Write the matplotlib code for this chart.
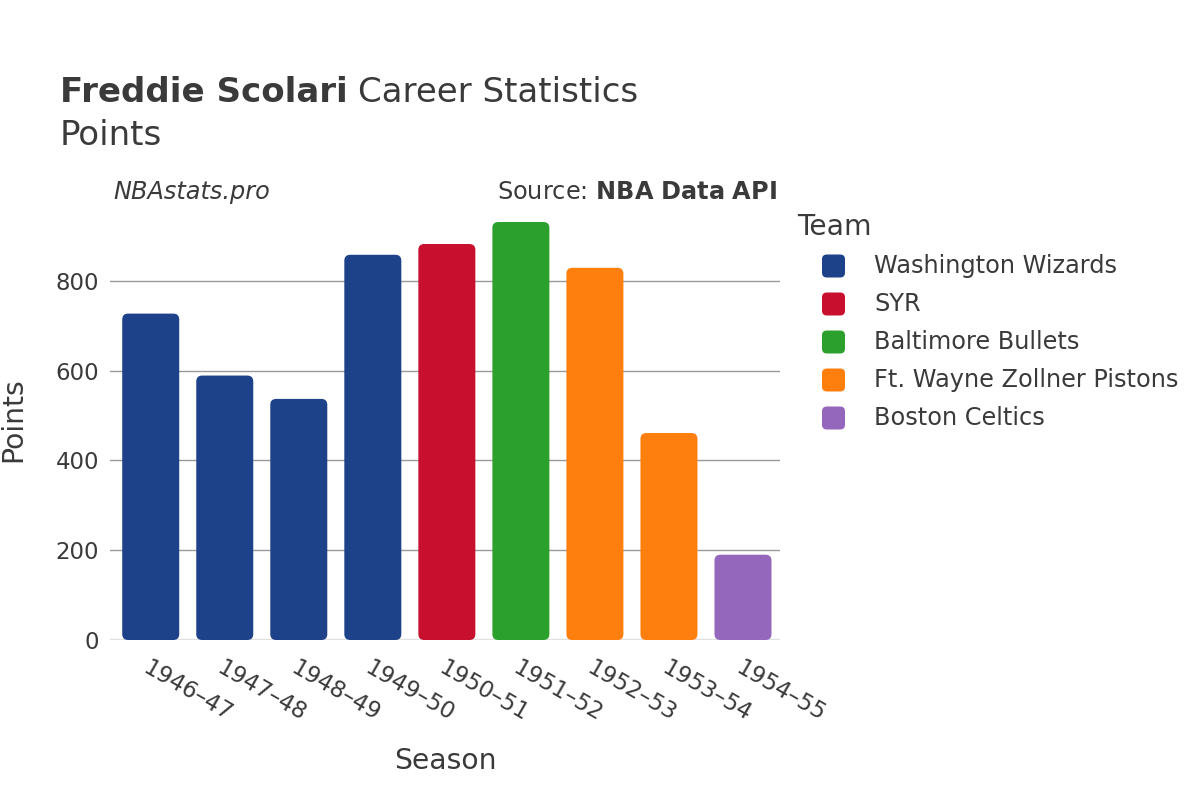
import matplotlib
matplotlib.use("Agg")
import matplotlib.pyplot as plt
from matplotlib.patches import FancyBboxPatch

# data
seasons = ["1946–47", "1947–48", "1948–49", "1949–50", "1950–51",
           "1951–52", "1952–53", "1953–54", "1954–55"]
points = [727, 589, 537, 858, 882, 931, 829, 461, 190]
teams = ["Washington Wizards", "Washington Wizards", "Washington Wizards",
         "Washington Wizards", "SYR", "Baltimore Bullets",
         "Ft. Wayne Zollner Pistons", "Ft. Wayne Zollner Pistons", "Boston Celtics"]

team_order = ["Washington Wizards", "SYR", "Baltimore Bullets",
              "Ft. Wayne Zollner Pistons", "Boston Celtics"]
team_colors = {"Washington Wizards": "#1d428a", "SYR": "#c8102e",
               "Baltimore Bullets": "#2ca02c",
               "Ft. Wayne Zollner Pistons": "#ff7f0e",
               "Boston Celtics": "#9467bd"}

plt.rcParams['font.family'] = ['DejaVu Sans']
text_col = "#3a3a3a"
W, H = 1200, 800

fig = plt.figure(figsize=(12, 8), dpi=100)
ax_box = [110 / W, 1 - 640 / H, (780 - 110) / W, (640 - 200) / H]
ax = fig.add_axes(ax_box)

x = list(range(len(seasons)))
bars = ax.bar(x, points, width=0.77, color=[team_colors[t] for t in teams], zorder=3)
ax.set_ylim(0, 980)
ax.set_xlim(-0.55, len(seasons) - 0.5)

# rounded corners on the bars
px_per_x = (ax_box[2] * W) / (ax.get_xlim()[1] - ax.get_xlim()[0])
px_per_y = (ax_box[3] * H) / (ax.get_ylim()[1] - ax.get_ylim()[0])
for b in bars:
    rp = FancyBboxPatch((b.get_x(), b.get_y()), b.get_width(), b.get_height(),
                        boxstyle="round,pad=0,rounding_size=0.08",
                        mutation_aspect=px_per_x / px_per_y,
                        facecolor=b.get_facecolor(), edgecolor="none", zorder=3)
    ax.add_patch(rp)
    b.set_visible(False)

ax.set_yticks([0, 200, 400, 600, 800])
ax.yaxis.grid(True, color="#999999", linewidth=1, zorder=0)
ax.axhline(0, color="#e0e0e0", linewidth=2.5, zorder=2)
for s in ax.spines.values():
    s.set_visible(False)
ax.tick_params(axis="both", length=0, labelsize=16.5, labelcolor=text_col)
ax.tick_params(axis="y", pad=8)
ax.set_xticks(x)
ax.set_xticklabels(seasons, rotation=-30, ha="left", rotation_mode="anchor")
ax.tick_params(axis="x", pad=12)

ax.set_xlabel("Season", fontsize=20.3, color=text_col, labelpad=15)
ax.set_ylabel("Points", fontsize=20.3, color=text_col, labelpad=20)

# title: bold name followed by regular text
t1 = fig.text(60 / W, 1 - 102 / H, "Freddie Scolari", fontsize=24.5, fontweight="bold", color=text_col)
fig.canvas.draw()
bb = t1.get_window_extent()
fig.text(bb.x1 / W + 10 / W, 1 - 102 / H, "Career Statistics", fontsize=24.5, color=text_col)
fig.text(60 / W, 1 - 145 / H, "Points", fontsize=24.5, color=text_col)
fig.text(113 / W, 1 - 199 / H, "NBAstats.pro", fontsize=17.3, style="italic", color=text_col)
fig.text(777 / W, 1 - 199 / H, "Source: $\\bf{NBA\\ Data\\ API}$", fontsize=17.3,
         ha="right", color=text_col)

# legend drawn by hand to match spacing
fig.text(797 / W, 1 - 227 / H, "Team", fontsize=20.3, color=text_col, va="center")
for i, t in enumerate(team_order):
    yc = 266 + 38 * i
    sq = FancyBboxPatch((822 / W, 1 - (yc + 11.5) / H), 23 / W, 23 / H,
                        boxstyle="round,pad=0,rounding_size=0.004",
                        mutation_aspect=W / H,
                        transform=fig.transFigure, facecolor=team_colors[t],
                        edgecolor="none")
    fig.patches.append(sq)
    fig.text(874 / W, 1 - yc / H, t, fontsize=17.3, color=text_col, va="center")

fig.savefig("out.png", dpi=100)
